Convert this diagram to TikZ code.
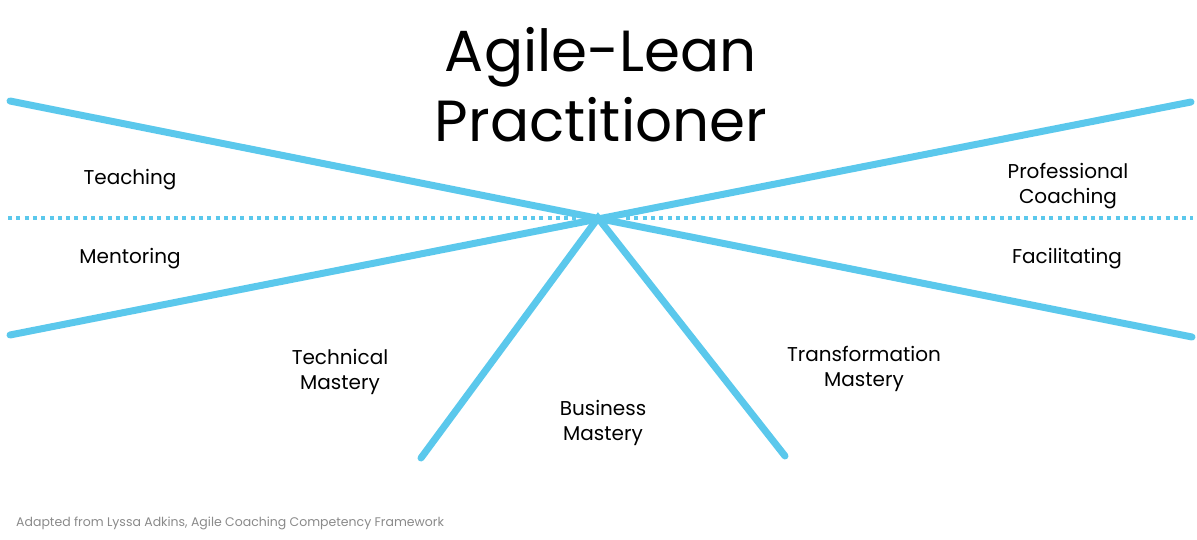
\documentclass[tikz,border=0pt]{standalone}
\usepackage{fontspec}
\setmainfont{Poppins}
\definecolor{lineblue}{HTML}{5BC8EC}
\definecolor{footgray}{HTML}{8A8A8A}
\begin{document}
\begin{tikzpicture}[x=1pt,y=-1pt,
  thick line/.style={draw=lineblue,line width=7pt,line cap=round},
  dotline/.style={draw=lineblue,line width=3.5pt,dash pattern=on 4pt off 4.3pt},
  label/.style={font=\fontsize{20}{25}\selectfont,align=center,text=black,inner sep=0pt}]
\useasboundingbox (0,0) rectangle (1197,540);
\coordinate (c) at (598,218);
\coordinate (tl) at (10,101);
\coordinate (br) at (1192,337);
\coordinate (bl) at (10,335);
\coordinate (tr) at (1191,102);
\coordinate (lb) at (421,458);
\coordinate (rb) at (785,456);
\coordinate (dl) at (8,218);
\coordinate (dlm) at (576,218);
\coordinate (drm) at (626,218);
\coordinate (dr) at (1193,218);
\draw[dotline] (dl) -- (dlm);
\draw[dotline] (drm) -- (dr);
\draw[thick line] (tl) -- (br);
\draw[thick line] (bl) -- (tr);
\draw[thick line] (lb) -- (c) -- (rb);
\node[inner sep=0pt,align=center,font=\fontsize{58}{70}\selectfont] (title) at (601,85) {Agile-Lean\\Practitioner};
\node[label] (teach) at (130,180) {Teaching};
\node[label] (prof) at (1068,186) {Professional\\Coaching};
\node[label] (ment) at (130,259) {Mentoring};
\node[label] (fac) at (1067,259) {Facilitating};
\node[label] (tech) at (340,372) {Technical\\Mastery};
\node[label] (bus) at (603,423) {Business\\Mastery};
\node[label] (trans) at (864,369) {Transformation\\Mastery};
\node[anchor=west,inner sep=0pt,text=footgray,font=\fontsize{12.5}{15}\selectfont] (foot) at (16,523) {Adapted from Lyssa Adkins, Agile Coaching Competency Framework};
\end{tikzpicture}
\end{document}
